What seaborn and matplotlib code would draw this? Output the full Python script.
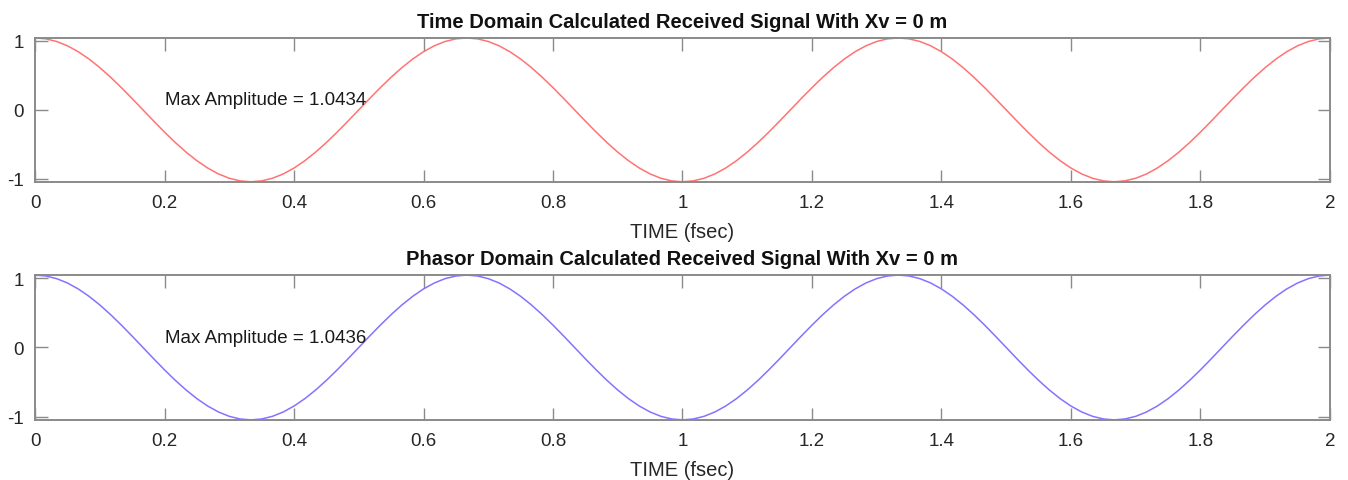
import numpy as np
import pandas as pd
import matplotlib
matplotlib.use("Agg")
import matplotlib.pyplot as plt
import seaborn as sns

# ---- data ----
time_fsec = np.linspace(0, 2, 121)

time_signal = [
    1.0434, 1.0305, 0.9923, 0.9297, 0.8441, 0.7378, 0.6133, 0.4737, 0.3224, 0.1632,
    0.0000, -0.1632, -0.3224, -0.4737, -0.6133, -0.7378, -0.8441, -0.9297, -0.9923, -1.0305,
    -1.0434, -1.0305, -0.9923, -0.9297, -0.8441, -0.7378, -0.6133, -0.4737, -0.3224, -0.1632,
    0.0000, 0.1632, 0.3224, 0.4737, 0.6133, 0.7378, 0.8441, 0.9297, 0.9923, 1.0305,
    1.0434, 1.0305, 0.9923, 0.9297, 0.8441, 0.7378, 0.6133, 0.4737, 0.3224, 0.1632,
    0.0000, -0.1632, -0.3224, -0.4737, -0.6133, -0.7378, -0.8441, -0.9297, -0.9923, -1.0305,
    -1.0434, -1.0305, -0.9923, -0.9297, -0.8441, -0.7378, -0.6133, -0.4737, -0.3224, -0.1632,
    0.0000, 0.1632, 0.3224, 0.4737, 0.6133, 0.7378, 0.8441, 0.9297, 0.9923, 1.0305,
    1.0434, 1.0305, 0.9923, 0.9297, 0.8441, 0.7378, 0.6133, 0.4737, 0.3224, 0.1632,
    0.0000, -0.1632, -0.3224, -0.4737, -0.6133, -0.7378, -0.8441, -0.9297, -0.9923, -1.0305,
    -1.0434, -1.0305, -0.9923, -0.9297, -0.8441, -0.7378, -0.6133, -0.4737, -0.3224, -0.1632,
    0.0000, 0.1632, 0.3224, 0.4737, 0.6133, 0.7378, 0.8441, 0.9297, 0.9923, 1.0305,
    1.0434,
]

phasor_signal = [
    1.0436, 1.0307, 0.9925, 0.9299, 0.8443, 0.7379, 0.6134, 0.4738, 0.3225, 0.1633,
    0.0000, -0.1633, -0.3225, -0.4738, -0.6134, -0.7379, -0.8443, -0.9299, -0.9925, -1.0307,
    -1.0436, -1.0307, -0.9925, -0.9299, -0.8443, -0.7379, -0.6134, -0.4738, -0.3225, -0.1633,
    0.0000, 0.1633, 0.3225, 0.4738, 0.6134, 0.7379, 0.8443, 0.9299, 0.9925, 1.0307,
    1.0436, 1.0307, 0.9925, 0.9299, 0.8443, 0.7379, 0.6134, 0.4738, 0.3225, 0.1633,
    0.0000, -0.1633, -0.3225, -0.4738, -0.6134, -0.7379, -0.8443, -0.9299, -0.9925, -1.0307,
    -1.0436, -1.0307, -0.9925, -0.9299, -0.8443, -0.7379, -0.6134, -0.4738, -0.3225, -0.1633,
    0.0000, 0.1633, 0.3225, 0.4738, 0.6134, 0.7379, 0.8443, 0.9299, 0.9925, 1.0307,
    1.0436, 1.0307, 0.9925, 0.9299, 0.8443, 0.7379, 0.6134, 0.4738, 0.3225, 0.1633,
    0.0000, -0.1633, -0.3225, -0.4738, -0.6134, -0.7379, -0.8443, -0.9299, -0.9925, -1.0307,
    -1.0436, -1.0307, -0.9925, -0.9299, -0.8443, -0.7379, -0.6134, -0.4738, -0.3225, -0.1633,
    0.0000, 0.1633, 0.3225, 0.4738, 0.6134, 0.7379, 0.8443, 0.9299, 0.9925, 1.0307,
    1.0436,
]

titles = [
    "Time Domain Calculated Received Signal With Xv = 0 m",
    "Phasor Domain Calculated Received Signal With Xv = 0 m",
]
annotations = ["Max Amplitude = 1.0434", "Max Amplitude = 1.0436"]
max_amps = [1.0434, 1.0436]
x_ticks = [0, 0.2, 0.4, 0.6, 0.8, 1.0, 1.2, 1.4, 1.6, 1.8, 2.0]
x_tick_labels = ["0", "0.2", "0.4", "0.6", "0.8", "1", "1.2", "1.4", "1.6", "1.8", "2"]
y_ticks = [-1, 0, 1]
y_tick_labels = ["-1", "0", "1"]
x_label = "TIME (fsec)"
line_colors = ["#ff7373", "#8373ff"]

# ---- styling ----
sns.set_style("white")
plt.rcParams["font.family"] = ["Liberation Sans", "DejaVu Sans"]

fig = plt.figure(figsize=(13.48, 4.81), dpi=100)
positions = [
    [0.026, 0.620, 0.9606, 0.299],
    [0.026, 0.125, 0.9606, 0.301],
]

series = [time_signal, phasor_signal]
frame_color = "#8a8a8a"

for i in range(2):
    ax = fig.add_axes(positions[i])
    df = pd.DataFrame({"t": time_fsec, "v": series[i]})
    sns.lineplot(data=df, x="t", y="v", ax=ax, color=line_colors[i], linewidth=1.1)
    ax.set_xlim(0, 2)
    ax.set_ylim(-max_amps[i], max_amps[i])
    ax.set_xticks(x_ticks)
    ax.set_xticklabels(x_tick_labels)
    ax.set_yticks(y_ticks)
    ax.set_yticklabels(y_tick_labels)
    ax.tick_params(axis="both", direction="in", length=9, width=1.0,
                   color=frame_color, labelcolor="#262626", labelsize=13.5,
                   top=True, right=True, bottom=True, left=True)
    ax.tick_params(axis="x", pad=9)
    ax.tick_params(axis="y", pad=8)
    for sp in ax.spines.values():
        sp.set_visible(True)
        sp.set_color(frame_color)
        sp.set_linewidth(1.4)
    ax.set_xlabel(x_label, fontsize=14.5, color="#262626", labelpad=8)
    ax.set_ylabel("")
    ax.set_title(titles[i], fontsize=14.5, fontweight="bold", color="#111111", pad=8)
    ax.text(0.2, 0.15, annotations[i], fontsize=13.5, color="#1a1a1a",
            ha="left", va="center")

fig.savefig("out.png", dpi=100)
